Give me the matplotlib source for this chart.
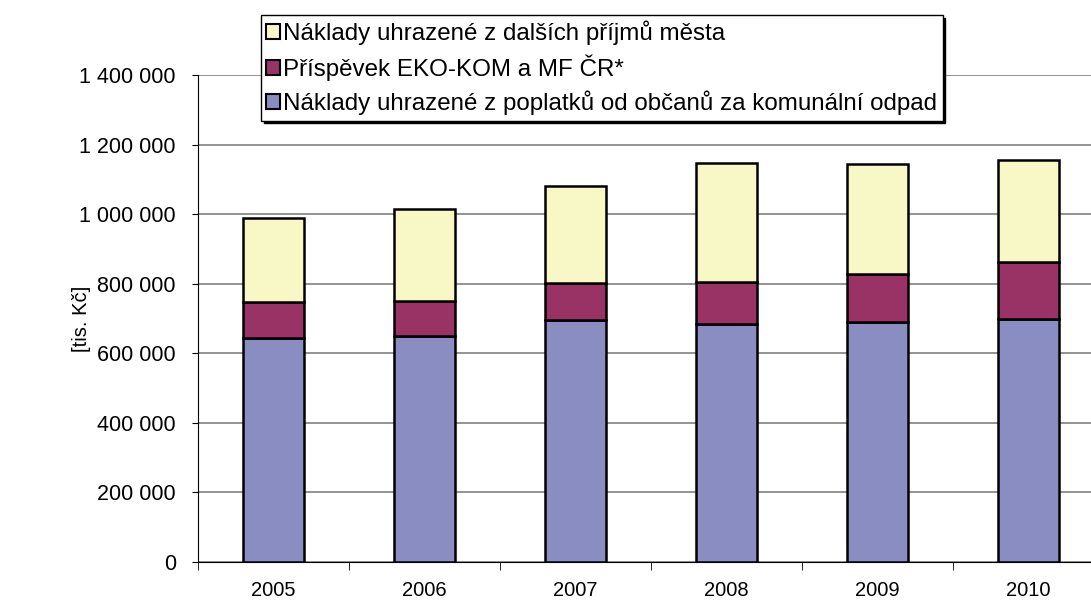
import numpy as np
import matplotlib.pyplot as plt
from matplotlib.ticker import FuncFormatter, FixedLocator

years = ['2005', '2006', '2007', '2008', '2009', '2010']
poplatky = [643000, 650000, 696000, 683000, 689000, 700000]
ekokom = [103000, 99000, 105000, 122000, 140000, 161000]
dalsi = [242500, 266000, 279000, 342000, 314000, 294000]

labels = ['Náklady uhrazené z poplatků od občanů za komunální odpad',
          'Příspěvek EKO-KOM a MF ČR*',
          'Náklady uhrazené z dalších příjmů města']
colors = ['#8A8DC2', '#993366', '#F8F7C6']

plt.rcParams['font.family'] = ['Liberation Sans', 'DejaVu Sans']

W, H = 1091, 601
fig = plt.figure(figsize=(W / 100, H / 100), dpi=100)
# plot area: left 198 px, right ~1105 px (cut off), top 75 px, bottom 562 px
ax = fig.add_axes([198 / W, (H - 562) / H, 906 / W, (562 - 75) / H])

x = np.arange(len(years))
p = np.array(poplatky)
e = np.array(ekokom)
d = np.array(dalsi)
bars = []
for vals, bottom, c, lab in [(p, 0, colors[0], labels[0]),
                             (e, p, colors[1], labels[1]),
                             (d, p + e, colors[2], labels[2])]:
    b = ax.bar(x, vals, 0.4, bottom=bottom, color=c, edgecolor='black',
               linewidth=1.8, label=lab, zorder=3)
    bars.append(b)

ax.set_xlim(-0.5, len(years) - 0.5)
ax.set_ylim(0, 1400000)
ax.set_yticks(np.arange(0, 1400001, 200000))
ax.yaxis.set_major_formatter(FuncFormatter(lambda v, _: f'{int(v):,}'.replace(',', ' ')))
ax.yaxis.grid(True, color='#808080', linewidth=1.2, zorder=0)
ax.set_axisbelow(True)

ax.set_xticks(x)
ax.set_xticklabels(years)
ax.xaxis.set_minor_locator(FixedLocator(np.arange(-0.5, len(years), 1)))
ax.tick_params(axis='x', which='major', length=0, pad=14, labelsize=14.5)
ax.tick_params(axis='x', which='minor', length=6, direction='out', color='black')
ax.tick_params(axis='y', length=4.5, direction='out', labelsize=15.5, pad=11.5)

for s in ['top', 'right']:
    ax.spines[s].set_visible(False)
ax.spines['left'].set_color('black')
ax.spines['bottom'].set_color('black')

ax.set_ylabel('[tis. Kč]', fontsize=14.5)
ax.yaxis.set_label_coords(-107 / 906, 0.5)

leg = ax.legend(handles=bars[::-1], loc='upper left',
                bbox_to_anchor=(261 / W, 1 - 15 / H), bbox_transform=fig.transFigure,
                frameon=True, fancybox=False, shadow={'color': 'black', 'alpha': 1},
                edgecolor='black', fontsize=17.4, handlelength=0.55, handleheight=0.55,
                handletextpad=0.15, labelspacing=0.4, borderpad=0.22, borderaxespad=0)
leg.get_frame().set_linewidth(1)
leg.set_zorder(10)
for h in leg.legend_handles:
    h.set_linewidth(1.5)

fig.savefig('out.png', dpi=100)
